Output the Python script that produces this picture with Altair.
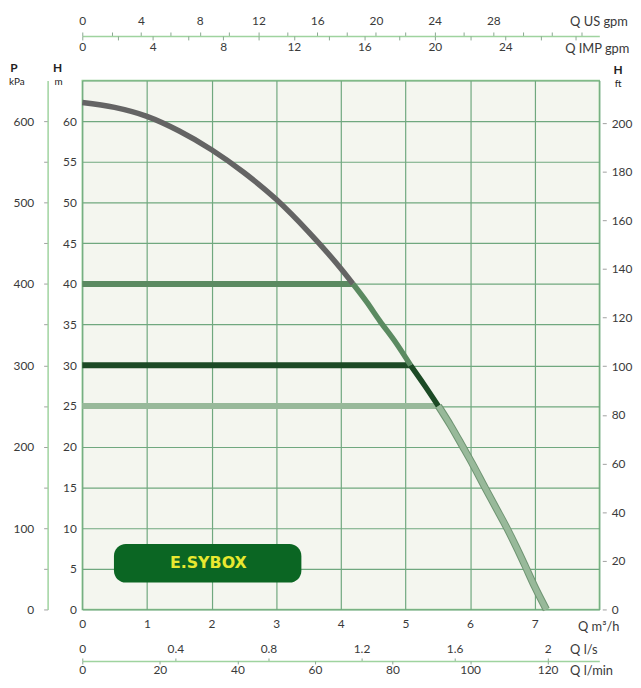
import altair as alt
import pandas as pd

# ---------------- data ----------------
# pump curve, split into the four coloured stretches
CURVE_MAX_Q = [0, 0.5, 1, 1.5, 2, 2.5, 3, 3.5, 4, 4.19]
CURVE_MAX_H = [62.3, 61.7, 60.6, 58.8, 56.5, 53.7, 50.4, 46.4, 41.9, 40.0]
CURVE_40_Q = [4.19, 4.4, 4.6, 4.85, 5.08]
CURVE_40_H = [40.0, 37.8, 35.5, 32.8, 30.0]
CURVE_30_Q = [5.08, 5.3, 5.51]
CURVE_30_H = [30.0, 27.5, 25.0]
CURVE_25_Q = [5.51, 5.7, 5.88, 6.05, 6.23, 6.4, 6.57, 6.72, 6.85, 7.0, 7.18]
CURVE_25_H = [25.0, 22.6, 20.1, 17.7, 15.0, 12.5, 10.0, 7.6, 5.4, 2.8, 0.0]

# constant-pressure set points (horizontal lines)
DUTY_NAME = ["40", "30", "25"]
DUTY_H = [40, 30, 25]
DUTY_Q_END = [4.19, 5.08, 5.51]
DUTY_Q_START = [0, 0, 0]

SEG_NAMES = ["max", "40", "30", "25"]
SEG_COLORS = ["#646464", "#5b8a61", "#1c4a25", "#98b99a"]

LOGO_TEXT = ["E.SYBOX"]

# axis tick values
Q_M3H_TICKS = [0, 1, 2, 3, 4, 5, 6, 7, 8]
H_M_TICKS = [0, 5, 10, 15, 20, 25, 30, 35, 40, 45, 50, 55, 60, 65]
P_KPA_TICKS = [0, 50, 100, 150, 200, 250, 300, 350, 400, 450, 500, 550, 600]
H_FT_TICKS = [0, 20, 40, 60, 80, 100, 120, 140, 160, 180, 200]
US_GPM_TICKS = [0, 2, 4, 6, 8, 10, 12, 14, 16, 18, 20, 22, 24, 26, 28, 30, 32, 34]
IMP_GPM_TICKS = [0, 2, 4, 6, 8, 10, 12, 14, 16, 18, 20, 22, 24, 26, 28]
LS_TICKS = [0, 0.4, 0.8, 1.2, 1.6, 2.0]
LMIN_TICKS = [0, 20, 40, 60, 80, 100, 120]

# scale maxima (8 m3/h and 65 m expressed in each unit)
Q_MAX = 8
H_MAX = 65
US_GPM_MAX = 35.22
IMP_GPM_MAX = 29.33
LS_MAX = 2.2222
LMIN_MAX = 133.33
P_MAX = 650
FT_MAX = 217.5

# ---------------- styling ----------------
FONT = "Lato"
LABEL_COLOR = "#3a3a3a"
GRID = "#70a87f"
LINE_GREEN = "#9fd39f"
TICK_COLOR = "#8aa890"

curve_df = pd.DataFrame({
    "q": CURVE_MAX_Q + CURVE_40_Q + CURVE_30_Q + CURVE_25_Q,
    "h": CURVE_MAX_H + CURVE_40_H + CURVE_30_H + CURVE_25_H,
    "seg": (["max"] * len(CURVE_MAX_Q) + ["40"] * len(CURVE_40_Q)
            + ["30"] * len(CURVE_30_Q) + ["25"] * len(CURVE_25_Q)),
})
light_df = pd.DataFrame({"q": CURVE_25_Q, "h": CURVE_25_H})
duty_df = pd.DataFrame({"seg": DUTY_NAME, "h": DUTY_H,
                        "q0": DUTY_Q_START, "q1": DUTY_Q_END})


def xs():
    return alt.Scale(domain=[0, Q_MAX], nice=False)


def ys():
    return alt.Scale(domain=[0, H_MAX], nice=False)


color_scale = alt.Scale(domain=SEG_NAMES, range=SEG_COLORS)

common_axis = dict(labelFont=FONT, labelFontSize=12, labelColor=LABEL_COLOR,
                   titleFont=FONT, titleFontSize=13, titleColor=LABEL_COLOR,
                   titleFontWeight="normal", labelFlush=False, labelOverlap=False)

# ---- main grid + m3/h bottom axis + H m left axis ----
grid_df = pd.DataFrame({"q": [0, Q_MAX], "h": [0, H_MAX]})
grid_layer = alt.Chart(grid_df).mark_point(opacity=0).encode(
    x=alt.X("q:Q", scale=xs(), axis=alt.Axis(
        orient="bottom", values=Q_M3H_TICKS,
        labelExpr="datum.value < 8 ? datum.label : ''",
        grid=True, gridColor=GRID, gridWidth=1.2, domain=False, ticks=False,
        labelPadding=9, title="Q m³/h", titleX=500, titleY=17,
        titleAlign="left", titleBaseline="middle", **common_axis)),
    y=alt.Y("h:Q", scale=ys(), axis=alt.Axis(
        orient="left", values=H_M_TICKS,
        labelExpr="datum.value < 65 ? datum.label : ''",
        grid=True, gridColor=GRID, gridWidth=1.2, domain=False, ticks=False,
        labelPadding=6, title=None, **common_axis)),
)

# ---- secondary axes ----
def x_axis_layer(vmax, axis):
    df = pd.DataFrame({"v": [0, vmax]})
    return alt.Chart(df).mark_point(opacity=0).encode(
        x=alt.X("v:Q", scale=alt.Scale(domain=[0, vmax], nice=False), axis=axis))


def y_axis_layer(vmax, axis):
    df = pd.DataFrame({"v": [0, vmax]})
    return alt.Chart(df).mark_point(opacity=0).encode(
        y=alt.Y("v:Q", scale=alt.Scale(domain=[0, vmax], nice=False), axis=axis))


us_layer = x_axis_layer(US_GPM_MAX, alt.Axis(
    orient="top", offset=45, values=US_GPM_TICKS,
    labelExpr="(datum.value % 4 == 0 && datum.value <= 28) ? datum.label : ''",
    domain=True, domainColor=LINE_GREEN, domainWidth=1.5,
    ticks=True, tickColor=TICK_COLOR, tickSize=4, labelPadding=5, grid=False,
    title="Q US gpm", titleX=492, titleY=-15, titleAlign="left",
    titleBaseline="middle", **common_axis))

imp_layer = x_axis_layer(IMP_GPM_MAX, alt.Axis(
    orient="bottom", offset=-579, values=IMP_GPM_TICKS,
    labelExpr="(datum.value % 4 == 0 && datum.value <= 24) ? datum.label : ''",
    domain=False, ticks=True, tickColor=TICK_COLOR, tickSize=4,
    labelPadding=2, grid=False,
    title="Q IMP gpm", titleX=487, titleY=13, titleAlign="left",
    titleBaseline="middle", **common_axis))

ls_layer = x_axis_layer(LS_MAX, alt.Axis(
    orient="top", offset=-586, values=LS_TICKS, format="~g",
    domain=True, domainColor=LINE_GREEN, domainWidth=1.5,
    ticks=True, tickColor=TICK_COLOR, tickSize=3, labelPadding=3, grid=False,
    title="Q l/s", titleX=492, titleY=-12, titleAlign="left",
    titleBaseline="middle", **common_axis))

lmin_layer = x_axis_layer(LMIN_MAX, alt.Axis(
    orient="bottom", offset=52, values=LMIN_TICKS,
    domain=False, ticks=True, tickColor=TICK_COLOR, tickSize=3,
    labelPadding=1, grid=False,
    title="Q l/min", titleX=492, titleY=10, titleAlign="left",
    titleBaseline="middle", **common_axis))

p_layer = y_axis_layer(P_MAX, alt.Axis(
    orient="left", offset=35, values=P_KPA_TICKS,
    labelExpr="datum.value % 100 == 0 ? datum.label : ''",
    domain=True, domainColor=LINE_GREEN, domainWidth=1.5,
    ticks=True, tickColor="#a0a0a0", tickSize=4, labelPadding=10,
    grid=False, title=None, **common_axis))

ft_layer = y_axis_layer(FT_MAX, alt.Axis(
    orient="right", offset=3, values=H_FT_TICKS,
    domain=False, ticks=True, tickColor="#a0a0a0", tickSize=4,
    labelPadding=5, grid=False, title=None, **common_axis))

# ---- data marks ----
duty_layer = alt.Chart(duty_df).mark_rule(strokeWidth=6, strokeCap="butt").encode(
    x=alt.X("q0:Q", scale=xs(), axis=None),
    x2="q1:Q",
    y=alt.Y("h:Q", scale=ys(), axis=None),
    color=alt.Color("seg:N", scale=color_scale, legend=None),
)

light_outline = alt.Chart(light_df).mark_line(
    strokeWidth=7.5, strokeCap="butt", interpolate="monotone", color="#6e9472"
).encode(
    x=alt.X("q:Q", scale=xs(), axis=None),
    y=alt.Y("h:Q", scale=ys(), axis=None),
    order="q:Q",
)

curve_layer = alt.Chart(curve_df).mark_line(
    strokeWidth=5.5, strokeCap="butt", interpolate="monotone"
).encode(
    x=alt.X("q:Q", scale=xs(), axis=None),
    y=alt.Y("h:Q", scale=ys(), axis=None),
    color=alt.Color("seg:N", scale=color_scale, legend=None),
    detail="seg:N",
    order="q:Q",
)

logo_df = pd.DataFrame({"t": LOGO_TEXT, "q0": [0.49], "q1": [3.39],
                        "h0": [3.3], "h1": [8.03], "qc": [1.95], "hc": [5.7]})
logo_box = alt.Chart(logo_df).mark_rect(cornerRadius=12, color="#0b6623").encode(
    x=alt.X("q0:Q", scale=xs(), axis=None), x2="q1:Q",
    y=alt.Y("h0:Q", scale=ys(), axis=None), y2="h1:Q",
)
logo_text = alt.Chart(logo_df).mark_text(
    font="DejaVu Sans", fontSize=16, fontWeight="bold", color="#e8e830",
    align="center", baseline="middle"
).encode(
    x=alt.X("qc:Q", scale=xs(), axis=None),
    y=alt.Y("hc:Q", scale=ys(), axis=None),
    text="t:N",
)


def unit_text(label, px, py, size, bold):
    return alt.Chart(pd.DataFrame({"t": [label]})).mark_text(
        font=FONT, fontSize=size, fontWeight="bold" if bold else "normal",
        color="#222222", align="center", baseline="middle"
    ).encode(x=alt.value(px), y=alt.value(py), text="t:N")


units = [
    unit_text("P", -69, -13, 12, True),
    unit_text("kPa", -66, 2, 10, False),
    unit_text("H", -25, -13, 12, True),
    unit_text("m", -24, 2, 10, False),
    unit_text("H", 541, -11, 12, True),
    unit_text("ft", 541, 4, 10, False),
]

chart = alt.layer(
    grid_layer, us_layer, imp_layer, ls_layer, lmin_layer, p_layer, ft_layer,
    duty_layer, light_outline, curve_layer, logo_box, logo_text, *units
).resolve_scale(
    x="independent", y="independent"
).properties(
    width=522, height=534,
    autosize=alt.AutoSizeParams(type="none"),
    padding={"left": 75, "top": 70, "right": 34, "bottom": 68},
    background="white",
).configure_view(
    fill="#f4f6ef", stroke="#92cf92", strokeWidth=1.5
)

chart.save("out.html", embed_options={"renderer": "svg", "actions": False})
